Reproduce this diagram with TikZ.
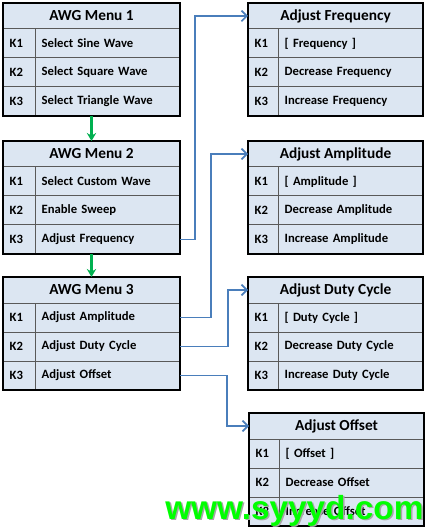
\documentclass[tikz,border=0pt]{standalone}
\usepackage{fontspec}
\setmainfont{Carlito}
\newfontfamily\wmfont{Liberation Sans}
\usetikzlibrary{arrows.meta}
\definecolor{cellblue}{HTML}{DCE6F2}
\definecolor{linegray}{HTML}{595959}
\definecolor{conblue}{HTML}{4A7EBB}
\definecolor{arrgreen}{HTML}{00B050}
\definecolor{wmgreen}{HTML}{00FF00}
\tikzset{
  cellbase/.style={draw=linegray, line width=0.75pt, fill=cellblue, anchor=north west,
    outer sep=0pt, inner xsep=5pt, inner ysep=0pt, font=\bfseries\fontsize{9.5}{11}\selectfont},
  titlecell/.style={cellbase, minimum height=19.5pt, align=center,
    font=\bfseries\fontsize{11.5}{13}\selectfont},
  rowcell/.style={cellbase, minimum height=21.75pt, align=left},
  outerline/.style={draw=black, line width=1.5pt},
  conn/.style={draw=conblue, line width=1.4pt, -{Straight Barb[length=4pt,width=8pt,line width=1.2pt]}},
  garrow/.style={draw=arrgreen, line width=1.6pt, -{Stealth[length=6pt,width=7pt]}},
}
% #1 name, #2 x, #3 y, #4 k text width, #5 row text width, #6 title, #7-#9 rows
\newcommand{\awgtable}[9]{%
  \pgfmathsetlengthmacro\awgtotal{#4+#5+20pt}%
  \node[titlecell, minimum width=\awgtotal] (#1-t) at (#2,#3) {#6};
  \node[rowcell, text width=#4] (#1-k1) at (#1-t.south west) {K1};
  \node[rowcell, text width=#5] (#1-r1) at (#1-k1.north east) {#7};
  \node[rowcell, text width=#4] (#1-k2) at (#1-k1.south west) {K2};
  \node[rowcell, text width=#5] (#1-r2) at (#1-k2.north east) {#8};
  \node[rowcell, text width=#4] (#1-k3) at (#1-k2.south west) {K3};
  \node[rowcell, text width=#5] (#1-r3) at (#1-k3.north east) {#9};
  \draw[outerline] (#1-t.north west) rectangle (#1-r3.south east);
}
\begin{document}
\begin{tikzpicture}[x=0.75pt, y=-0.75pt]
\useasboundingbox (0,0) rectangle (429,530);
% left menus
\awgtable{ma}{3}{3}{14pt}{98.75pt}{AWG Menu 1}{Select Sine Wave}{Select Square Wave}{Select Triangle Wave}
\awgtable{mb}{3}{141}{14pt}{98.75pt}{AWG Menu 2}{Select Custom Wave}{Enable Sweep}{Adjust Frequency}
\awgtable{mc}{3}{277}{14pt}{98.75pt}{AWG Menu 3}{Adjust Amplitude}{Adjust Duty Cycle}{Adjust Offset}
% right menus
\awgtable{af}{248}{3}{12.5pt}{98.75pt}{Adjust Frequency}{[ Frequency ]}{Decrease Frequency}{Increase Frequency}
\awgtable{aa}{248}{141}{12.5pt}{98.75pt}{Adjust Amplitude}{[ Amplitude ]}{Decrease Amplitude}{Increase Amplitude}
\awgtable{ad}{248}{277}{12.5pt}{98.75pt}{Adjust Duty Cycle}{[ Duty Cycle ]}{Decrease Duty Cycle}{Increase Duty Cycle}
\awgtable{ao}{249}{413}{12.5pt}{98.75pt}{Adjust Offset}{[ Offset ]}{Decrease Offset}{Increase Offset}
% green arrows
\draw[garrow] (ma-t.center |- ma-r3.south) -- (mb-t.north);
\draw[garrow] (mb-t.center |- mb-r3.south) -- (mc-t.north);
% blue connectors
\draw[conn] (mb-r3.east) -- ++(15,0) |- (af-t.west);
\draw[conn] (mc-r1.east) -- ++(31,0) |- (aa-t.west);
\draw[conn] (mc-r2.east) -- ++(48,0) |- (ad-t.west);
\draw[conn] (mc-r3.east) -- ++(47,0) |- (ao-t.west);
% watermark
\node[anchor=base west, inner sep=0pt, text=black!35, font=\wmfont\bfseries\fontsize{25}{26}\selectfont] (wms) at (166.5,520.5) {www.syyyd.com};
\node[anchor=base west, inner sep=0pt, text=wmgreen, font=\wmfont\bfseries\fontsize{25}{26}\selectfont] (wm) at (165,519) {www.syyyd.com};
\end{tikzpicture}
\end{document}
